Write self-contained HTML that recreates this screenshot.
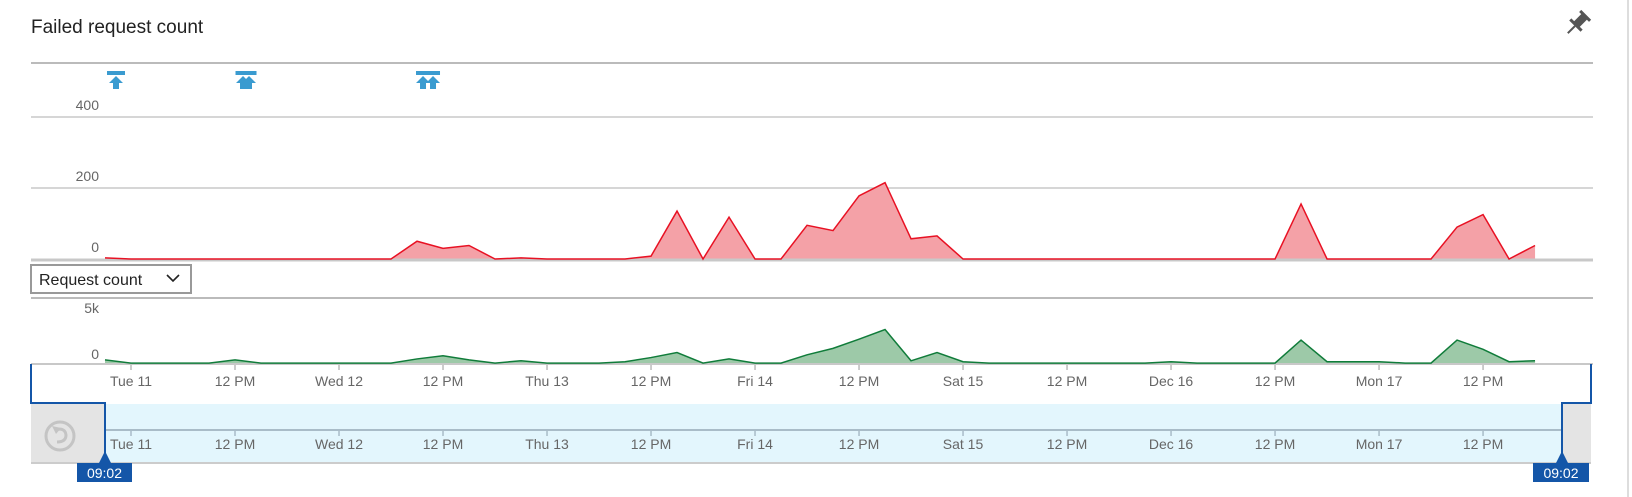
<!DOCTYPE html>
<html><head><meta charset="utf-8"><style>
html,body{margin:0;padding:0;background:#fff;width:1632px;height:497px;overflow:hidden}
svg{display:block;font-family:"Liberation Sans",sans-serif}
</style></head><body>
<svg id="chart" width="1632" height="497" viewBox="0 0 1632 497">
  <text x="31" y="33" font-size="19" fill="#222">Failed request count</text>
  <g transform="translate(1577,24) rotate(45)">
    <rect x="-4" y="-11" width="8" height="12" fill="#555"/>
    <rect x="-8" y="0" width="16" height="3" fill="#555"/>
    <rect x="-1" y="3" width="2" height="10" fill="#555"/>
    <rect x="-7" y="-13" width="14" height="3" fill="#555"/>
  </g>
  <line x1="1628" y1="0" x2="1628" y2="497" stroke="#ddd" stroke-width="2"/>
  <line x1="31" y1="63" x2="1593" y2="63" stroke="#bbb" stroke-width="2"/>
  <g id="grid1"></g>
  <g id="annots"></g>
  <g id="redArea"></g>
  <g>
    <rect x="31" y="265" width="160" height="28" fill="#fff" stroke="#999" stroke-width="2"/>
    <text x="39" y="285" font-size="16" fill="#222">Request count</text>
    <path d="M167 275 l6 6 l6 -6" fill="none" stroke="#222" stroke-width="1.6"/>
  </g>
  <line x1="31" y1="298" x2="1593" y2="298" stroke="#bbb" stroke-width="2"/>
  <g id="grid2"></g>
  <g id="greenArea"></g>
  <g id="xaxis"></g>
  <g>
    <rect x="105" y="404" width="1457" height="59" fill="#e3f6fd"/>
    <rect x="31" y="404" width="74" height="59" fill="#e4e4e4"/>
    <rect x="1562" y="404" width="29" height="59" fill="#e4e4e4"/>
    <line x1="31" y1="463" x2="1591" y2="463" stroke="#ccc" stroke-width="2"/>
    <line x1="105" y1="430" x2="1562" y2="430" stroke="#a9bcc8" stroke-width="2"/>
    <path d="M31 364 V403 H105 V463" fill="none" stroke="#1456a8" stroke-width="2"/>
    <path d="M1591 364 V403 H1562 V463" fill="none" stroke="#1456a8" stroke-width="2"/>
    <g>
      <circle cx="60" cy="436" r="14" fill="none" stroke="#c4c4c4" stroke-width="3"/>
      <path d="M55 430 q10 -3 11 5 q0 7 -9 7" fill="none" stroke="#c4c4c4" stroke-width="3"/>
      <path d="M52 426 l4 8 l5 -6 z" fill="#c4c4c4"/>
    </g>
    <g>
      <path d="M99 463 L105 451 L111 463 Z" fill="#1456a8"/>
      <rect x="77" y="463" width="55" height="19" fill="#1456a8"/>
      <text x="104.5" y="478" font-size="14" fill="#fff" text-anchor="middle">09:02</text>
    </g>
    <g>
      <path d="M1556 463 L1562 451 L1568 463 Z" fill="#1456a8"/>
      <rect x="1533" y="463" width="56" height="19" fill="#1456a8"/>
      <text x="1561" y="478" font-size="14" fill="#fff" text-anchor="middle">09:02</text>
    </g>
  </g>
  <g id="navaxis"></g>
</svg>
<script>
const hoursOffset = [-3,0,3,6,9,12,15,18,21,24,27,30,33,36,39,42,45,48,51,54,57,60,63,66,69,72,75,78,81,84,87,90,93,96,99,102,105,108,111,114,117,120,123,126,129,132,135,138,141,144,147,150,153,156,159,162];
const failedCounts = [3,0,0,0,0,0,0,0,0,0,0,0,50,30,38,0,3,0,0,0,0,8,135,0,118,0,0,95,80,178,215,57,65,0,0,0,0,0,0,0,0,0,0,0,0,0,155,0,0,0,0,0,90,125,0,38];
const requestCounts = [450,100,100,100,100,450,100,100,100,100,100,100,550,900,450,100,350,100,100,100,250,700,1250,100,550,100,100,1000,1700,2700,3750,350,1250,250,100,100,100,100,100,100,100,250,100,100,100,100,2600,250,250,250,100,100,2600,1600,250,350];
const tickHours = [0,12,24,36,48,60,72,84,96,108,120,132,144,156];
const tickLabels = ["Tue 11","12 PM","Wed 12","12 PM","Thu 13","12 PM","Fri 14","12 PM","Sat 15","12 PM","Dec 16","12 PM","Mon 17","12 PM"];
const failedTicks = [0,200,400];
const requestTicks = [0,5000];
const requestTickLabels = ["0","5k"];
const annotationHours = [0,15,36];
const annotationCounts = [1,2,2];

const NS = "http://www.w3.org/2000/svg";
const xS = h => 131 + h * 8.667;
const y1 = v => 259 - v * (71/200);
const y2 = v => 364 - v * (46/5000);
function mk(tag, attrs, parent){const e=document.createElementNS(NS,tag);for(const k in attrs)e.setAttribute(k,attrs[k]);parent.appendChild(e);return e;}

const g1=document.getElementById('grid1');
failedTicks.forEach(v=>{
  if(v>0){const l=mk('line',{x1:31,x2:1593,y1:y1(v),y2:y1(v),stroke:'#c8c8c8','stroke-width':1.5},g1);
  
  }
  const t=mk('text',{x:99,y:y1(v)-7,'font-size':14,fill:'#666','text-anchor':'end'},g1);t.textContent=String(v);
  
  
});

const ra=document.getElementById('redArea');
let pts=hoursOffset.map((h,i)=>xS(h)+','+y1(failedCounts[i]));
const fillR=mk('polygon',{points:xS(hoursOffset[0])+','+y1(0)+' '+pts.join(' ')+' '+xS(hoursOffset[hoursOffset.length-1])+','+y1(0),fill:'#f4a1a7'},ra);


const bl1=mk('line',{x1:31,x2:1593,y1:y1(0)+1,y2:y1(0)+1,stroke:'#c8c8c8','stroke-width':3},ra);


const lineR=mk('polyline',{points:pts.join(' '),fill:'none',stroke:'#e81123','stroke-width':1.5},ra);



const an=document.getElementById('annots');
annotationHours.forEach((h,i)=>{
  const cx=xS(h)-15, n=annotationCounts[i];
  const w=n===1?18:(i===1?21:24);
  const g=mk('g',{},an);
  
  
  mk('rect',{x:cx-w/2,y:71,width:w,height:4,fill:'#3a9bd0'},g);
  const offs=n===1?[0]:(i===1?[-3,3]:[-5,5]);
  offs.forEach(o=>{mk('path',{d:`M${cx+o-7} 83 L${cx+o} 76 L${cx+o+7} 83 L${cx+o+3} 83 L${cx+o+3} 89 L${cx+o-3} 89 L${cx+o-3} 83 Z`,fill:'#3a9bd0'},g);});
});

const g2=document.getElementById('grid2');
requestTicks.forEach((v,i)=>{
  const t=mk('text',{x:99,y:y2(v)-5,'font-size':14,fill:'#666','text-anchor':'end'},g2);t.textContent=requestTickLabels[i];
  
  
});
const ga=document.getElementById('greenArea');
let p2=hoursOffset.map((h,i)=>xS(h)+','+y2(requestCounts[i]));
const fillG=mk('polygon',{points:xS(hoursOffset[0])+','+y2(0)+' '+p2.join(' ')+' '+xS(hoursOffset[hoursOffset.length-1])+','+y2(0),fill:'#9dc9a8'},ga);


const bl2=mk('line',{x1:31,x2:1593,y1:y2(0),y2:y2(0),stroke:'#c8c8c8','stroke-width':2},ga);


const lineG=mk('polyline',{points:p2.join(' '),fill:'none',stroke:'#107c3a','stroke-width':1.5},ga);



function axis(id,tickY,labelY,color){
  const g=document.getElementById(id);
  tickHours.forEach((h,i)=>{
    const tk=mk('line',{x1:xS(h),x2:xS(h),y1:tickY,y2:tickY+5,stroke:color,'stroke-width':1.5},g);
    
    
    const t=mk('text',{x:xS(h),y:labelY,'font-size':14,fill:'#666','text-anchor':'middle'},g);t.textContent=tickLabels[i];
    
    
  });
}
axis('xaxis',365,386,'#bbb');
axis('navaxis',431,449,'#a9bcc8');
</script>
</body></html>
